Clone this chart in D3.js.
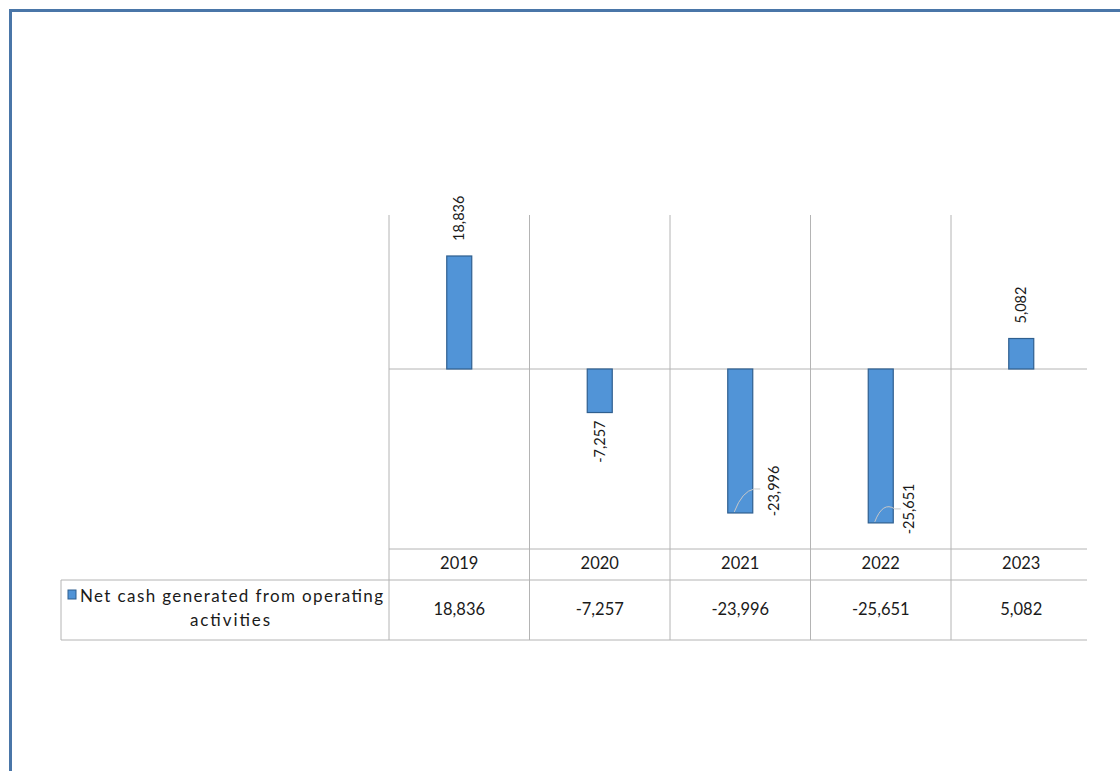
<!DOCTYPE html>
<html>
<head>
<meta charset="utf-8">
<script src="https://cdn.jsdelivr.net/npm/d3@7"></script>
<style>
  html, body { margin: 0; padding: 0; background: #fff; }
  svg { display: block; font-family: Lato, "Open Sans", sans-serif; }
</style>
</head>
<body>
<svg id="chart" width="1120" height="771"></svg>
<script>
  // data
  var years = ["2019", "2020", "2021", "2022", "2023"];
  var netCash = [18836, -7257, -23996, -25651, 5082];
  var seriesName = ["Net cash generated from operating", "activities"];

  var svg = d3.select("#chart");
  var fmt = function (v) { return d3.format(",")(v).replace("\u2212", "-"); };

  var left = 389, right = 1087;
  var plotTop = 215, plotBottom = 549;
  var rowTop = 580, rowBottom = 640, legendLeft = 61;
  var gridColor = "#b4b4b4";
  var textColor = "#1a1a1a";

  var x = d3.scaleBand().domain(years).range([left, left + 5 * 140.5]);
  var y = d3.scaleLinear().domain([-30000, 25000]).range([549, 219]);

  // outer frame (cut off at right and bottom)
  svg.append("path")
    .attr("d", "M10.5,790 V10.5 H1130")
    .attr("fill", "none")
    .attr("stroke", "#4a76a8")
    .attr("stroke-width", 3);

  svg.append("clipPath").attr("id", "clip")
    .append("rect").attr("x", 0).attr("y", 0).attr("width", right).attr("height", 771);

  var g = svg.append("g").attr("clip-path", "url(#clip)");

  // vertical grid / table column lines
  var edges = years.map(function (d) { return x(d); }).concat([x.range()[1]]);
  g.selectAll(".vline").data(edges).enter().append("line")
    .attr("x1", function (d) { return d; })
    .attr("x2", function (d) { return d; })
    .attr("y1", plotTop)
    .attr("y2", rowBottom)
    .attr("stroke", gridColor).attr("stroke-width", 1);

  // horizontal lines: zero axis, table header
  g.selectAll(".hline").data([y(0), plotBottom]).enter().append("line")
    .attr("x1", left).attr("x2", right)
    .attr("y1", function (d) { return d; })
    .attr("y2", function (d) { return d; })
    .attr("stroke", gridColor).attr("stroke-width", 1);

  g.selectAll(".rline").data([rowTop, rowBottom]).enter().append("line")
    .attr("x1", legendLeft).attr("x2", right)
    .attr("y1", function (d) { return d; })
    .attr("y2", function (d) { return d; })
    .attr("stroke", gridColor).attr("stroke-width", 1);

  g.append("line")
    .attr("x1", legendLeft).attr("x2", legendLeft)
    .attr("y1", rowTop).attr("y2", rowBottom)
    .attr("stroke", gridColor);

  // bars
  var barW = 25;
  var data = years.map(function (d, i) { return { year: d, value: netCash[i] }; });

  g.selectAll(".bar").data(data).enter().append("rect")
    .attr("x", function (d) { return x(d.year) + x.bandwidth() / 2 - barW / 2; })
    .attr("y", function (d) { return Math.min(y(d.value), y(0)); })
    .attr("width", barW)
    .attr("height", function (d) { return Math.abs(y(d.value) - y(0)); })
    .attr("fill", "#5194d7")
    .attr("stroke", "#2f5f8f")
    .attr("stroke-width", 1.2);

  // data labels, rotated
  data.forEach(function (d) {
    var cx = x(d.year) + x.bandwidth() / 2;
    var yEnd = y(d.value);
    var lx = cx, ly, anchor;
    if (d.value >= 0) {
      ly = yEnd - 15; anchor = "start";
    } else if (yEnd + 8 + 62 > plotBottom) {
      // label does not fit below the bar: moved to the side with a leader line
      var deep = d.value < -25000;
      lx = cx + (deep ? 28 : 34);
      ly = yEnd - 22 + (deep ? 8 : 0);
      anchor = "middle";
      g.append("path")
        .attr("d", "M" + (cx - 6) + "," + (yEnd - 1) +
          " Q" + (cx + 2) + "," + (yEnd - 22) + " " + (cx + 14) + "," + (yEnd - 24 + (deep ? 10 : 0)) +
          " H" + (cx + 20))
        .attr("fill", "none")
        .attr("stroke", "#c8c8c8")
        .attr("stroke-width", 1);
    } else {
      ly = yEnd + 8; anchor = "end";
    }
    g.append("text")
      .attr("transform", "translate(" + (lx + 5) + "," + ly + ") rotate(-90)")
      .attr("text-anchor", anchor)
      .attr("font-size", 14.5)
      .attr("fill", textColor)
      .text(fmt(d.value));
  });

  // table header years
  g.selectAll(".year").data(years).enter().append("text")
    .attr("x", function (d) { return x(d) + x.bandwidth() / 2; })
    .attr("y", 569)
    .attr("text-anchor", "middle")
    .attr("font-size", 16.5)
    .attr("fill", textColor)
    .text(function (d) { return d; });

  // table values
  g.selectAll(".val").data(data).enter().append("text")
    .attr("x", function (d) { return x(d.year) + x.bandwidth() / 2; })
    .attr("y", 615)
    .attr("text-anchor", "middle")
    .attr("font-size", 16.5)
    .attr("fill", textColor)
    .text(function (d) { return fmt(d.value); });

  // legend key + series name
  g.append("rect")
    .attr("x", 68).attr("y", 590).attr("width", 8).attr("height", 9)
    .attr("fill", "#5194d7").attr("stroke", "#2f5f8f");

  var legendWidths = [303, 80];
  g.selectAll(".leg").data(seriesName).enter().append("text")
    .attr("x", function (d, i) { return i === 0 ? 80 : 190; })
    .attr("y", function (d, i) { return 602 + i * 24; })
    .attr("font-size", 17)
    .attr("textLength", function (d, i) { return legendWidths[i]; })
    .attr("lengthAdjust", "spacing")
    .attr("fill", textColor)
    .text(function (d) { return d; });
</script>
</body>
</html>
